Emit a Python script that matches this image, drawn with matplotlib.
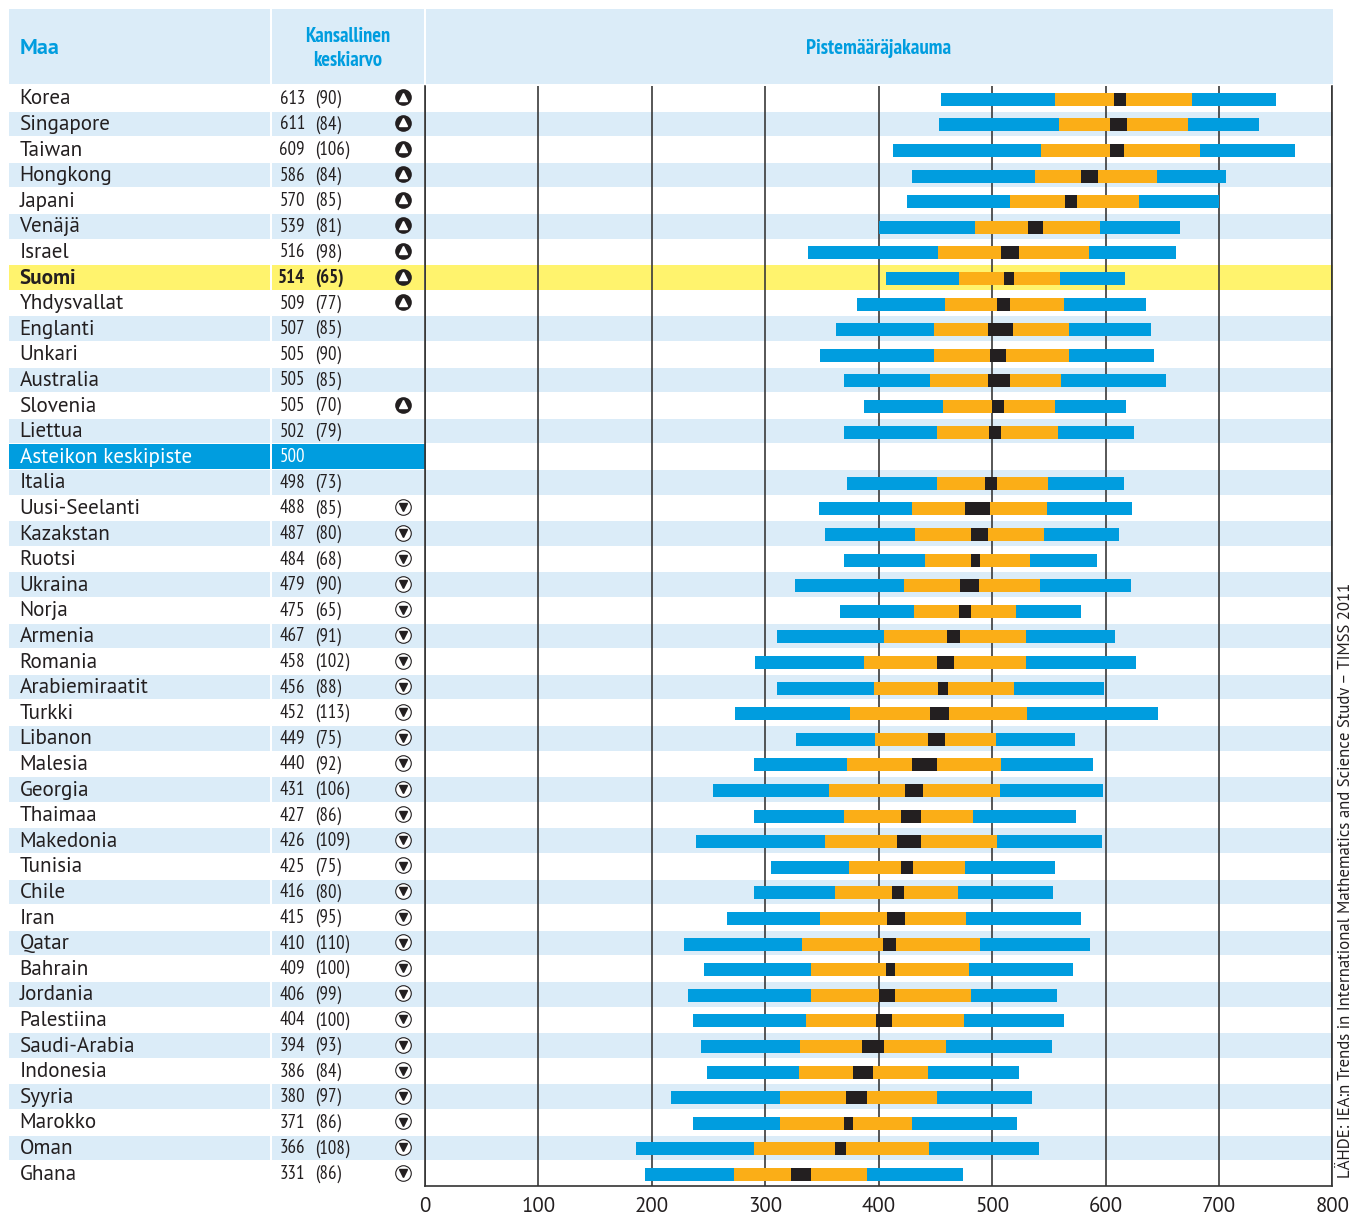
import matplotlib
matplotlib.use("Agg")
import matplotlib.pyplot as plt
from matplotlib.patches import Rectangle
from matplotlib import font_manager as fm

countries = ["Korea","Singapore","Taiwan","Hongkong","Japani","Venäjä","Israel","Suomi","Yhdysvallat","Englanti","Unkari","Australia","Slovenia","Liettua","Asteikon keskipiste","Italia","Uusi-Seelanti","Kazakstan","Ruotsi","Ukraina","Norja","Armenia","Romania","Arabiemiraatit","Turkki","Libanon","Malesia","Georgia","Thaimaa","Makedonia","Tunisia","Chile","Iran","Qatar","Bahrain","Jordania","Palestiina","Saudi-Arabia","Indonesia","Syyria","Marokko","Oman","Ghana"]
means = [613,611,609,586,570,539,516,514,509,507,505,505,505,502,500,498,488,487,484,479,475,467,458,456,452,449,440,431,427,426,425,416,415,410,409,406,404,394,386,380,371,366,331]
sds = [90,84,106,84,85,81,98,65,77,85,90,85,70,79,None,73,85,80,68,90,65,91,102,88,113,75,92,106,86,109,75,80,95,110,100,99,100,93,84,97,86,108,86]
# +1 significantly above, -1 below, 0 no difference
signif = [1,1,1,1,1,1,1,1,1,0,0,0,1,0,0,0]+[-1]*27
p5  = [455,453,413,429,425,400,338,406,381,362,348,369,387,369,None,372,347,353,369,326,366,310,291,310,273,327,290,254,290,239,305,290,266,228,246,232,236,243,249,217,236,186,194]
p25 = [555,559,543,538,516,485,452,471,458,449,449,445,457,451,None,451,429,432,441,422,431,405,387,396,375,397,372,356,369,353,374,361,348,332,340,340,336,331,330,313,313,290,272]
ciL = [607,604,604,578,564,532,508,510,504,496,498,496,500,497,None,494,476,481,481,472,471,460,451,452,445,443,429,423,420,416,420,412,407,404,406,400,398,385,377,371,369,361,323]
ciH = [618,619,616,593,575,545,524,519,516,518,512,516,510,508,None,504,498,496,489,488,481,472,466,461,462,458,451,439,437,437,430,422,423,415,414,414,412,405,395,390,377,371,340]
p75 = [676,673,683,645,629,595,585,560,563,568,568,561,555,558,None,549,548,546,533,542,521,530,530,519,531,503,508,507,483,504,476,470,477,489,480,481,475,459,443,451,429,444,390]
p95 = [750,735,767,706,700,666,662,617,636,640,643,653,618,625,None,616,623,612,592,622,578,608,627,599,646,573,589,598,574,597,555,554,578,586,571,557,563,553,524,535,522,541,474]
xticks = [0,100,200,300,400,500,600,700,800]

BLUE = "#009ddf"; ORANGE = "#fbae17"; DARK = "#231f20"
BAND = "#dbecf8"; YELLOW = "#fff36d"; TXT = "#231f20"
W, H = 1349, 1214
avail = {f.name for f in fm.fontManager.ttflist}
def pick(*names):
    for n in names:
        if n in avail:
            return n
    return "DejaVu Sans"
NARROW = pick("PT Sans Narrow", "Roboto Condensed", "Liberation Sans Narrow", "Roboto")
SANS = pick("PT Sans", "Open Sans")

fig = plt.figure(figsize=(W/100, H/100), dpi=100, facecolor="white")
bg = fig.add_axes([0, 0, 1, 1], zorder=0)
bg.set_xlim(0, W); bg.set_ylim(H, 0); bg.axis("off")

TOP, ROW = 85.5, 25.6
cols = [(9, 269.5), (271.5, 424), (426, 1332.5)]
for a, b in cols:
    bg.add_patch(Rectangle((a, 9), b-a, 75, fc=BAND, ec="none"))
for i, name in enumerate(countries):
    y = TOP + ROW*i
    c = None
    if name == "Suomi":
        c = YELLOW
    elif name == "Asteikon keskipiste":
        c = BLUE
    elif i % 2 == 1:
        c = BAND
    if c:
        spans = cols[:2] if c == BLUE else cols
        for a, b in spans:
            bg.add_patch(Rectangle((a, y+0.5), b-a + (1 if c == BLUE and a > 200 else 0), ROW-1, fc=c, ec="none"))
    col = "white" if c == BLUE else TXT
    w = "bold" if name == "Suomi" else "normal"
    yc = y + ROW/2 + 0.5
    bg.text(19.5, yc, name, family=SANS, fontsize=15.2, color=col, weight=w, va="center", ha="left")
    bg.text(305, yc, str(means[i]), family=NARROW, fontsize=13.6, color=col, weight=w, va="center", ha="right")
    if sds[i] is not None:
        bg.text(315.5, yc, f"({sds[i]})", family=NARROW, fontsize=13.6, color=col, weight=w, va="center", ha="left")
    if signif[i] == 1:
        bg.plot([403], [yc-1.5], "o", ms=12, mfc=DARK, mec=DARK, mew=0)
        bg.plot([403], [yc-2], "^", ms=5.5, mfc="white", mec="white", mew=1, solid_joinstyle="round")
    elif signif[i] == -1:
        bg.plot([403], [yc-1.5], "o", ms=11.2, mfc="white", mec=DARK, mew=0.8)
        bg.plot([403], [yc-1], "v", ms=5.5, mfc=DARK, mec=DARK, mew=1)

bg.text(20, 48.5, "Maa", family=SANS, fontsize=16, weight="bold", color=BLUE, va="center")
bg.text(347.5, 48.5, "Kansallinen\nkeskiarvo", family=NARROW, fontsize=14.8, weight="bold", color=BLUE,
        va="center", ha="center", linespacing=1.32)
bg.text(879, 48.5, "Pistemääräjakauma", family=NARROW, fontsize=15, weight="bold", color=BLUE, va="center", ha="center")

bg.text(1344, 583, "LÄHDE: IEA:n Trends in International Mathematics and Science Study – TIMSS 2011",
        family=SANS, fontsize=12.1, color=TXT, rotation=90, va="top", ha="center", zorder=2)

ax = fig.add_axes([425/W, 1-(TOP+ROW*43)/H, (1332.5-425)/W, ROW*43/H], zorder=1)
ax.patch.set_alpha(0)
ax.set_xlim(0, 800); ax.set_ylim(43, 0)
ax.set_yticks([])
ax.set_xticks(xticks)
ax.tick_params(axis="x", length=0, pad=7.5, labelsize=15, labelcolor=TXT)
for lab in ax.get_xticklabels():
    lab.set_family(SANS)
ax.spines["top"].set_visible(False)
for s in ["left", "right", "bottom"]:
    ax.spines[s].set_linewidth(1.2); ax.spines[s].set_color("#333333")
ax.grid(axis="x", color="#3a3a3a", lw=1.2, zorder=1)
ax.set_axisbelow(True)
for i in range(len(countries)):
    if p5[i] is None:
        continue
    edges = [p5[i], p25[i], ciL[i], ciH[i], p75[i], p95[i]]
    colours = [BLUE, ORANGE, DARK, ORANGE, BLUE]
    for j, c in enumerate(colours):
        ax.barh(i+0.54, edges[j+1]-edges[j], left=edges[j], height=0.51, color=c, lw=0, zorder=3)

fig.savefig("out.png", dpi=100)
